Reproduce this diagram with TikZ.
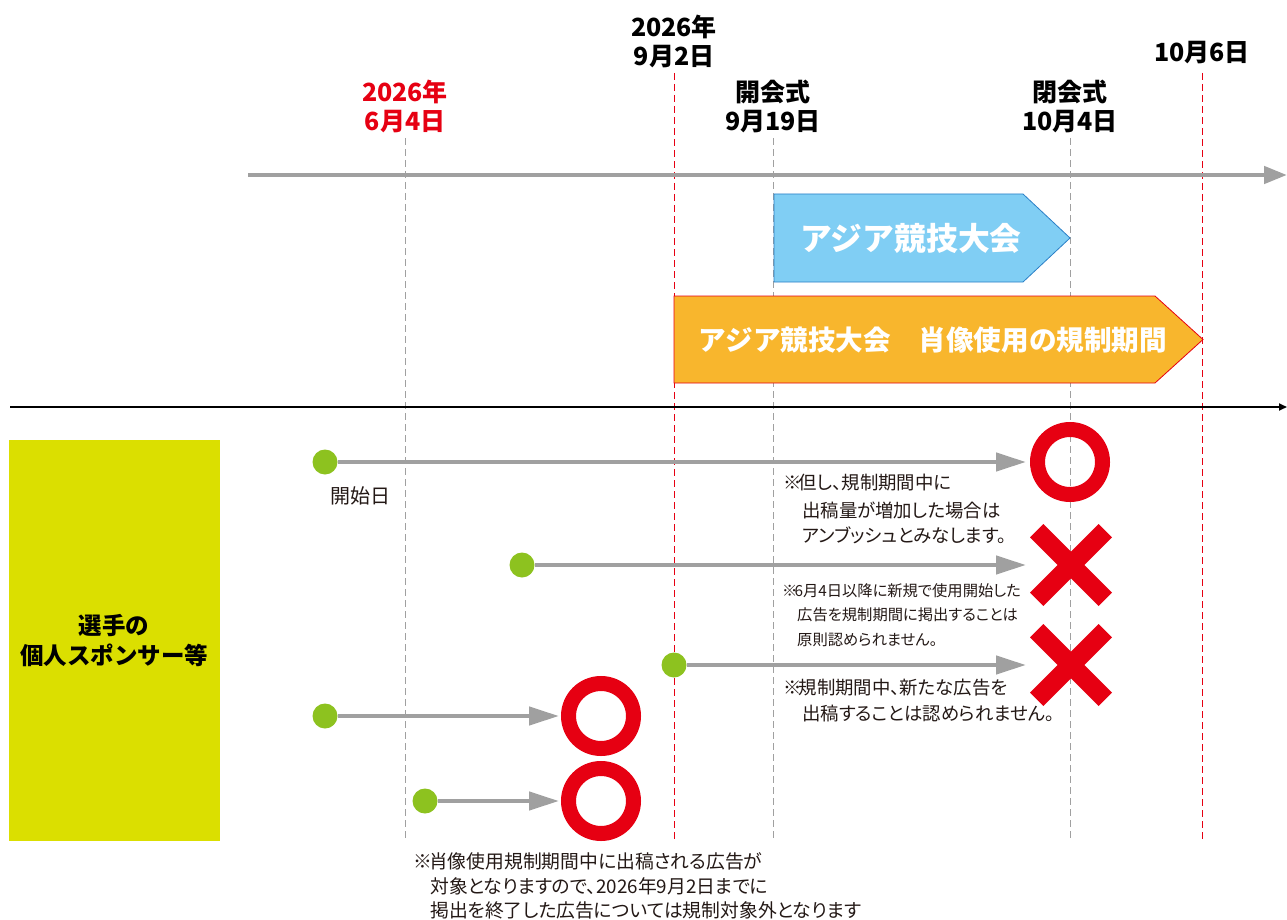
\documentclass[tikz,border=0pt]{standalone}
\usepackage{fontspec}
\setmainfont{Noto Sans CJK JP}
\newfontfamily\jpp[RawFeature=+palt]{Noto Sans CJK JP}
\newcommand{\kome}{※\kern-3pt}
\usetikzlibrary{arrows.meta,calc}
\definecolor{jred}{HTML}{E60012}
\definecolor{jgray}{HTML}{A0A0A0}
\definecolor{jgreen}{HTML}{8DC21F}
\definecolor{jblue}{HTML}{80CEF4}
\definecolor{jblueline}{HTML}{2A7FC6}
\definecolor{jorange}{HTML}{F8B62D}
\definecolor{jlime}{HTML}{DBDF00}
\definecolor{jtext}{HTML}{231815}
\begin{document}
\begin{tikzpicture}[x=1pt,y=-1pt,
  guide/.style={jgray,line width=1pt,dash pattern=on 7pt off 4pt},
  guidered/.style={jred,line width=1pt,dash pattern=on 7pt off 4pt},
  datehead/.style={font=\fontsize{25}{25}\selectfont\bfseries,inner sep=0pt},
  note/.style={font=\jpp\fontsize{18.4}{20}\selectfont,inner sep=0pt,anchor=west,text=jtext},
  bignote/.style={font=\jpp\fontsize{18.8}{20}\selectfont,inner sep=0pt,anchor=west,text=jtext},
  smallnote/.style={font=\jpp\fontsize{15.3}{18}\selectfont,inner sep=0pt,anchor=west,text=jtext},
  dot/.style={circle,fill=jgreen,minimum size=25pt,inner sep=0pt},
  flow/.style={jgray,line width=4.5pt,-{Triangle[length=30pt,width=18pt]}},
  okmark/.style={circle,draw=jred,line width=15pt,minimum size=65pt,inner sep=0pt,outer sep=0pt},
  ngmark/.style={rectangle,minimum size=82pt,inner sep=0pt,outer sep=0pt,
    path picture={\draw[jred,line width=19pt]
      ([shift={(-34.3pt,-34.3pt)}]path picture bounding box.center) --
      ([shift={(34.3pt,34.3pt)}]path picture bounding box.center)
      ([shift={(-34.3pt,34.3pt)}]path picture bounding box.center) --
      ([shift={(34.3pt,-34.3pt)}]path picture bounding box.center);}},
  banner/.style={text=white,inner sep=0pt}
]
\path[use as bounding box] (0,0) rectangle (1287,920);

% guides
\draw[guide] (405,138) -- (405,840);
\draw[guidered] (674,73) -- (674,840);
\draw[guide] (773,138) -- (773,840);
\draw[guide] (1070,138) -- (1070,840);
\draw[guidered] (1202,73) -- (1202,840);

% date headings
\node[datehead,text=jred] (h1a) at (405,92) {2026年};
\node[datehead,text=jred] (h1b) at (405,122) {6月4日};
\node[datehead] (h2a) at (674,27) {2026年};
\node[datehead] (h2b) at (674,57) {9月2日};
\node[datehead] (h3a) at (773,92) {開会式};
\node[datehead] (h3b) at (773,122) {9月19日};
\node[datehead] (h4a) at (1070,92) {閉会式};
\node[datehead] (h4b) at (1070,122) {10月4日};
\node[datehead] (h5) at (1202,53) {10月6日};

% time axis
\draw[jgray,line width=4.5pt,-{Triangle[length=23pt,width=17pt]}] (248,175) -- (1287,175);

% banners
\draw[jblueline,fill=jblue,line width=0.8pt] (774,194) -- (1023,194) -- (1070,238) -- (1023,282) -- (774,282) -- cycle;
\node[banner,font=\fontsize{31.8}{32}\selectfont\bfseries] (blueT) at (911,238) {アジア競技大会};
\draw[jred,fill=jorange,line width=0.8pt] (674,296) -- (1155,296) -- (1203,339.5) -- (1155,383) -- (674,383) -- cycle;
\node[banner,font=\fontsize{27.6}{28}\selectfont\bfseries] (orangeT) at (933,340) {アジア競技大会　肖像使用の規制期間};

% separator
\draw[black,line width=2pt,-{Triangle[length=8pt,width=7pt]}] (10,407) -- (1287,407);

% category box
\node[fill=jlime,minimum width=211pt,minimum height=401pt,inner sep=0pt,anchor=north west] (box) at (9,440) {};
\node[font=\fontsize{23.5}{30}\selectfont\bfseries,align=center,inner sep=0pt] (boxT) at (114,641) {選手の\\個人スポンサー等};

% row 1
\node[dot] (d1) at (325,462) {};
\node[okmark] (o1) at (1070,462) {};
\draw[flow,shorten >=11.5pt] (d1) -- (o1);
\node[font=\fontsize{20}{20}\selectfont,text=jtext,inner sep=0pt] (start) at (360,496) {開始日};
\node[note] (n1a) at (783,483) {\kome 但し、規制期間中に};
\node[note] (n1b) at (802,510) {出稿量が増加した場合は};
\node[note] (n1c) at (802,535) {アンブッシュとみなします。};

% row 2
\node[dot] (d2) at (522,565) {};
\node[ngmark] (x1) at (1071,565) {};
\draw[flow,shorten >=4pt] (d2) -- (x1);
\node[smallnote] (n2a) at (782,591) {\kome 6月4日以降に新規で使用開始した};
\node[smallnote] (n2b) at (797,615) {広告を規制期間に掲出することは};
\node[smallnote] (n2c) at (797,640) {原則認められません。};

% row 3
\node[dot] (d3) at (674,665) {};
\node[ngmark] (x2) at (1071,665) {};
\draw[flow,shorten >=4pt] (d3) -- (x2);
\node[note] (n3a) at (783,688) {\kome 規制期間中、新たな広告を};
\node[note] (n3b) at (802,714) {出稿することは認められません。};

% row 4
\node[dot] (d4) at (325,716) {};
\node[okmark] (o2) at (601,716) {};
\draw[flow,shorten >=9.5pt] (d4) -- (o2);

% row 5
\node[dot] (d5) at (425,801) {};
\node[okmark] (o3) at (601,801) {};
\draw[flow,shorten >=9.5pt] (d5) -- (o3);

% bottom note
\node[bignote] (n4a) at (413,861) {\kome 肖像使用規制期間中に出稿される広告が};
\node[bignote] (n4b) at (430,886) {対象となりますので、2026年9月2日までに};
\node[bignote] (n4c) at (430,910) {掲出を終了した広告については規制対象外となります};
\end{tikzpicture}
\end{document}
